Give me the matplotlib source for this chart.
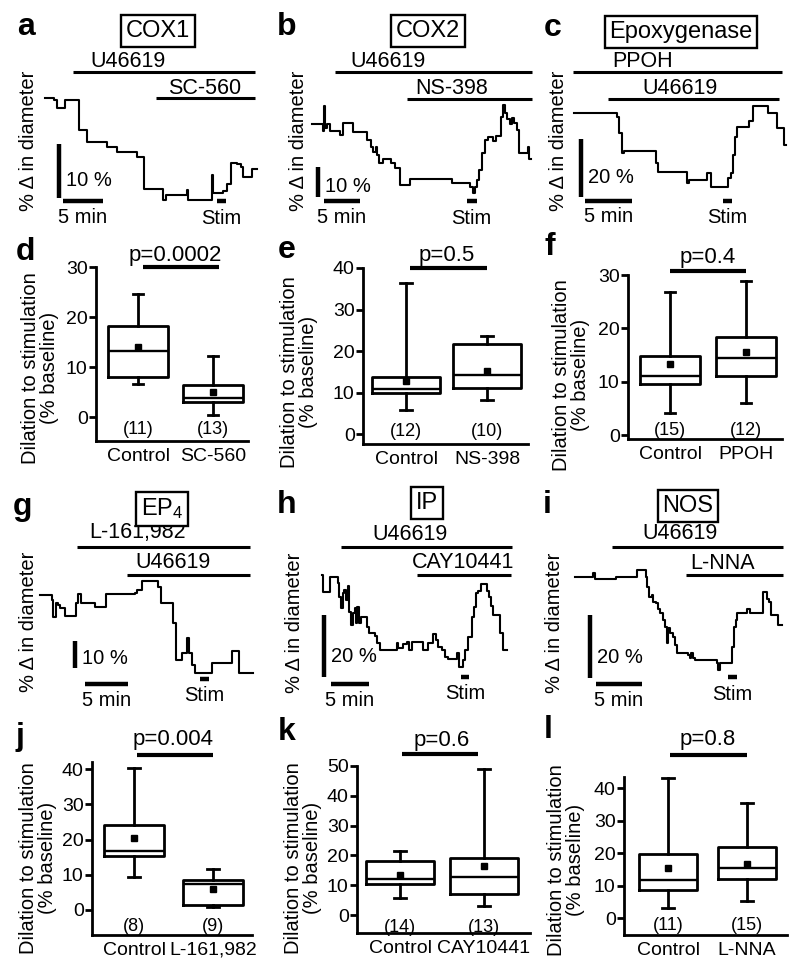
import matplotlib
matplotlib.use('Agg')
import matplotlib.pyplot as plt

plt.rcParams['font.family'] = ['Liberation Sans', 'DejaVu Sans']
plt.rcParams['mathtext.fontset'] = 'custom'
plt.rcParams['mathtext.rm'] = 'Liberation Sans'
plt.rcParams['mathtext.default'] = 'regular'

# ---- trace data: time (min) and % change in diameter ----
a_t = [0, 1.13, 1.54, 2.5, 4.25, 5.29, 7.79, 8.96, 11.46, 12.38, 14.79, 15.08, 17.71, 17.92,
       20.83, 21.04, 22.21, 22.71, 23.25, 24.04, 24.46, 24.79, 25.83, 26.46]
a_v = [0, -0.3, -1.8, -0.3, -6.0, -8.2, -9.1, -10.0, -10.9, -16.8, -18.8, -18.0, -17.1, -18.8,
       -14.3, -17.6, -17.2, -15.9, -12.0, -12.2, -12.8, -14.6, -13.2, -13.2]

b_t = [0, 1.53, 1.71, 1.9, 2.18, 2.55, 3.94, 4.4, 5.79, 7.64, 8.19, 8.56, 8.94, 9.12, 9.4,
       9.95, 10.97, 11.57, 12.27, 13.66, 19.44, 22.0, 22.36, 22.69, 22.92, 23.29, 23.61, 24.07,
       24.54, 25.14, 25.6, 26.3, 26.53, 26.85, 27.08, 27.55, 27.78, 28.1, 28.47, 28.84, 30.09,
       30.23, 30.42]
b_v = [0, -2.2, 6.0, -1.4, 0, -2.2, -3.7, 0.4, -2.6, -5.3, -7.6, -9.2, -7.6, -10.3, -13.1,
       -11.8, -13.1, -14.8, -20.3, -18.4, -19.8, -20.9, -22.9, -20.9, -18.7, -15.3, -9.8, -5.3,
       -4.2, -5.6, -4.0, 2.4, 6.3, 3.6, 1.6, 0, 1.9, 0.2, -2.0, -9.8, -7.6, -11.8, -11.8]

c_t = [0, 4.57, 4.79, 5.04, 5.28, 8.69, 8.94, 11.95, 12.23, 14.08, 14.5, 16.38, 16.67, 16.91,
       17.09, 17.34, 18.62, 18.97, 20.64, 21.52, 22.3, 22.52]
c_v = [0, -1.4, -7.1, -14.0, -13.1, -17.5, -20.3, -24.1, -23.2, -20.7, -25.7, -22.6, -20.9,
       -14.6, -8.3, -5.1, -2.8, 2.3, -0.2, -5.4, -11.1, -11.1]

g_t = [0, 1.36, 1.55, 1.82, 2.13, 2.33, 2.91, 4.19, 4.46, 4.73, 6.4, 7.67, 11.05, 11.24, 11.82,
       13.76, 14.03, 15.5, 15.78, 16.47, 17.05, 17.36, 17.64, 18.02, 19.96, 22.36, 23.18, 24.81]
g_v = [0, -1.9, -8.0, -3.1, -3.7, -4.9, -7.8, -3.1, 0.4, -2.8, -4.3, 0.2, 0.6, 1.9, 5.2,
       3.1, -3.1, -10.5, -24.1, -21.6, -16.0, -21.6, -25.9, -28.8, -25.3, -20.6, -28.8, -28.8]

h_t = [0, 0.22, 1.1, 1.84, 2.11, 2.33, 2.54, 2.76, 2.94, 3.2, 3.42, 3.64, 3.86, 4.17, 4.39,
       4.52, 4.69, 4.96, 5.13, 5.92, 6.27, 7.02, 7.32, 7.68, 9.87, 10.09, 10.66, 11.18, 11.54,
       11.84, 13.16, 13.38, 14.04, 14.69, 15.0, 15.35, 15.79, 16.23, 16.67, 17.85, 18.03, 18.55,
       18.86, 19.3, 19.74, 20.04, 20.31, 20.61, 20.92, 21.71, 21.97, 22.24, 22.59, 23.46, 23.9,
       24.43]
h_v = [0, -5.4, -0.5, -0.8, -2.7, -7.0, -10.8, -5.9, -4.8, -8.1, -3.5, -11.8, -16.1, -12.4,
       -10.8, -15.6, -10.2, -15.6, -13.4, -16.7, -18.8, -19.7, -22.0, -24.2, -22.0, -23.7, -22.3,
       -21.5, -24.2, -21.5, -21.5, -24.2, -21.8, -19.0, -21.0, -23.1, -24.2, -26.3, -27.2, -25.3,
       -29.8, -27.4, -24.2, -19.9, -13.4, -10.2, -5.9, -5.1, -2.9, -5.1, -7.2, -10.0, -12.9,
       -18.8, -24.2, -24.2]

i_t = [0, 1.99, 2.17, 4.46, 6.7, 7.72, 7.86, 8.08, 8.33, 8.51, 8.8, 9.06, 9.24, 9.6, 9.78,
       9.96, 10.14, 10.33, 10.62, 10.87, 11.05, 12.32, 12.5, 12.61, 12.86, 13.04, 15.4, 15.58,
       15.76, 16.85, 17.03, 17.28, 17.5, 17.64, 18.66, 19.02, 20.47, 20.91, 21.12, 21.27, 22.1,
       22.46]
i_v = [0, 1.1, -0.7, 0, 2.1, 0, -3.2, -6.3, -5.8, -7.9, -8.5, -10.1, -11.6, -13.8, -15.9,
       -21.2, -16.4, -18.0, -19.1, -21.7, -24.3, -24.9, -25.9, -24.3, -25.9, -26.5, -27.5, -29.6,
       -27.3, -27.5, -22.2, -15.9, -13.8, -11.6, -10.4, -11.6, -4.8, -7.2, -7.9, -12.2, -15.3,
       -15.3]

# drug application bars: (name, start min, end min, level %, label min, label %)
a_drugs = [('U46619', 3.5, 26.25, 4.8, 10.4, 6.7), ('SC-560', 13.9, 26.25, 0.0, 20.0, 1.85)]
b_drugs = [('U46619', 3.2, 30.6, 17.3, 10.6, 20.7), ('NS-398', 13.2, 30.6, 8.3, 19.4, 11.7)]
c_drugs = [('PPOH', -0.14, 22.1, 14.0, 7.3, 17.5), ('U46619', 3.6, 21.8, 4.7, 11.2, 8.2)]
g_drugs = [('L-161,982', 4.3, 24.4, 17.8, 11.3, 23.0), ('U46619', 10.1, 24.4, 7.4, 15.5, 12.2)]
h_drugs = [('U46619', 2.54, 25.0, 9.0, 11.6, 13.2), ('CAY10441', 12.5, 24.9, 0.0, 18.6, 3.9)]
i_drugs = [('U46619', 4.0, 22.6, 9.4, 11.4, 13.6), ('L-NNA', 12.1, 22.6, 0.5, 16.0, 4.3)]

# stimulation period (min)
a_stim = [21.5, 22.6]
b_stim = [21.5, 22.9]
c_stim = [15.8, 16.8]
g_stim = [18.6, 19.65]
h_stim = [18.3, 19.4]
i_stim = [16.6, 17.6]

# ---- box plot data: dilation to stimulation (% baseline) ----
d_groups = ['Control', 'SC-560']
d_lo = [6.7, 0.5]
d_q1 = [8.0, 3.0]
d_med = [13.3, 3.8]
d_q3 = [18.3, 6.5]
d_hi = [24.7, 12.3]
d_mean = [14.0, 5.0]
d_n = [11, 13]

e_groups = ['Control', 'NS-398']
e_lo = [5.7, 8.2]
e_q1 = [10.0, 11.2]
e_med = [10.8, 14.3]
e_q3 = [13.7, 21.8]
e_hi = [36.3, 23.5]
e_mean = [12.7, 15.2]
e_n = [12, 10]

f_groups = ['Control', 'PPOH']
f_lo = [4.2, 6.0]
f_q1 = [9.5, 11.0]
f_med = [11.0, 14.5]
f_q3 = [14.8, 18.4]
f_hi = [26.8, 28.8]
f_mean = [13.4, 15.6]
f_n = [15, 12]

j_groups = ['Control', 'L-161,982']
j_lo = [9.3, 0.8]
j_q1 = [15.3, 1.5]
j_med = [16.8, 7.5]
j_q3 = [24.0, 8.5]
j_hi = [40.3, 11.7]
j_mean = [20.3, 6.0]
j_n = [8, 9]

k_groups = ['Control', 'CAY10441']
k_lo = [5.7, 3.0]
k_q1 = [10.5, 7.0]
k_med = [12.0, 12.7]
k_q3 = [18.0, 19.0]
k_hi = [21.5, 49.0]
k_mean = [13.5, 16.3]
k_n = [14, 13]

l_groups = ['Control', 'L-NNA']
l_lo = [3.2, 5.2]
l_q1 = [8.5, 12.0]
l_med = [11.8, 15.5]
l_q3 = [19.8, 22.0]
l_hi = [43.0, 35.3]
l_mean = [15.3, 16.5]
l_n = [11, 15]

p_labels = {'d': 'p=0.0002', 'e': 'p=0.5', 'f': 'p=0.4', 'j': 'p=0.004', 'k': 'p=0.6', 'l': 'p=0.8'}

W, H = 800, 975
fig = plt.figure(figsize=(8, 9.75), dpi=100)
K = 'black'


def px_axes(L, T, R, B):
    return fig.add_axes([L / W, 1 - B / H, (R - L) / W, (B - T) / H])


def trace_panel(t, v, drugs, stim, rect, origin, ppm, ppp, vbar, hbar, stim_y, pct):
    L, T, R, B = rect
    x0, y0 = origin
    ax = px_axes(L, T, R, B)
    ax.set_xlim((L - x0) / ppm, (R - x0) / ppm)
    ax.set_ylim((y0 - B) / ppp, (y0 - T) / ppp)
    ax.axis('off')
    ax.step(t, v, where='post', color=K, lw=1.5, clip_on=False)
    for name, t0, t1, lev, tx, ty in drugs:
        ax.plot([t0, t1], [lev, lev], color=K, lw=2.2, solid_capstyle='butt', clip_on=False)
        ax.text(tx, ty, name, ha='center', va='center', fontsize=15.5)
    # scale bars
    vt, vy0 = vbar
    ax.plot([vt, vt], [vy0, vy0 + pct], color=K, lw=3.2, solid_capstyle='butt', clip_on=False)
    ax.text(vt + 7 / ppm, vy0 + pct * 0.33, '%d %%' % pct, ha='left', va='center', fontsize=14.5)
    ht, hy = hbar
    ax.plot([ht, ht + 5], [hy, hy], color=K, lw=3.2, solid_capstyle='butt', clip_on=False)
    ax.text(ht + 2.5, hy - 16 / ppp, '5 min', ha='center', va='center', fontsize=14.5)
    ax.plot(stim, [stim_y, stim_y], color=K, lw=3.2, solid_capstyle='butt', clip_on=False)
    ax.text(sum(stim) / 2, stim_y - 17 / ppp, 'Stim', ha='center', va='center', fontsize=14.5)
    return ax


trace_panel(a_t, a_v, a_drugs, a_stim, (40, 50, 265, 232), (45, 98), 8.0, 5.4,
            (1.7, -18.5), (2.25, -19.1), -19.1, 10)
trace_panel(b_t, b_v, b_drugs, b_stim, (300, 50, 540, 232), (311.7, 124), 7.2, 3.0,
            (0.83, -24.3), (1.67, -25.7), -25.7, 10)
trace_panel(c_t, c_v, c_drugs, c_stim, (565, 50, 795, 232), (574.3, 112.7), 9.4, 2.9,
            (0.7, -29.1), (1.1, -30.4), -30.4, 20)
trace_panel(g_t, g_v, g_drugs, g_stim, (35, 520, 265, 712), (40, 595), 8.6, 2.7,
            (4.1, -27.0), (5.23, -33.0), -31.1, 10)
trace_panel(h_t, h_v, h_drugs, h_stim, (312, 520, 535, 712), (321.7, 575), 7.6, 3.1,
            (0.24, -32.9), (1.22, -35.2), -32.9, 20)
trace_panel(i_t, i_v, i_drugs, i_stim, (565, 520, 795, 712), (575, 576.7), 9.2, 3.15,
            (1.63, -32.2), (2.28, -34.1), -31.9, 20)


def box_panel(key, groups, lo, q1, med, q3, hi, mean, n, rect, centers, ylim, ticks, width,
              pline, ptext_y, n_y):
    L, T, R, B = rect
    ax = px_axes(L, T, R, B)
    c1, c2 = centers
    step = c2 - c1
    ax.set_xlim(1 - (c1 - L) / step, 2 + (R - c2) / step)
    ax.set_ylim(*ylim)
    stats = []
    for k in range(2):
        stats.append(dict(whislo=lo[k], q1=q1[k], med=med[k], q3=q3[k], whishi=hi[k],
                          mean=mean[k], fliers=[], label=groups[k]))
    lp = dict(color=K, lw=2.0)
    ax.bxp(stats, positions=[1, 2], widths=width, showmeans=True, showfliers=False,
           boxprops=lp, whiskerprops=lp, capprops=lp, medianprops=dict(color=K, lw=1.7),
           meanprops=dict(marker='s', markersize=4, markerfacecolor=K, markeredgecolor=K),
           capwidths=0.14)
    for s in ['top', 'right']:
        ax.spines[s].set_visible(False)
    for s in ['left', 'bottom']:
        ax.spines[s].set_linewidth(2.0)
    ax.set_yticks(ticks)
    ax.tick_params(axis='y', direction='out', length=5, width=2.0, labelsize=14, pad=1)
    ax.tick_params(axis='x', length=0, labelsize=14, pad=5)
    for k in range(2):
        ax.text(k + 1, n_y, '(%d)' % n[k], ha='center', va='center', fontsize=13)
    x0, x1, yl = pline
    ax.plot([x0, x1], [yl, yl], color=K, lw=3, solid_capstyle='butt', clip_on=False)
    ax.text(1.5, ptext_y, p_labels[key], ha='center', va='center', fontsize=16)
    return ax


box_panel('d', d_groups, d_lo, d_q1, d_med, d_q3, d_hi, d_mean, d_n, (96, 267, 248, 441),
          (138, 213), (-4.8, 30), [0, 10, 20, 30], 0.79, (1.07, 2.08, 30), 32.4, -2.6)
box_panel('e', e_groups, e_lo, e_q1, e_med, e_q3, e_hi, e_mean, e_n, (363, 268, 528, 444),
          (406, 487), (-2.4, 40), [0, 10, 20, 30, 40], 0.83, (1.05, 2.0, 40), 43.1, 0.7)
box_panel('f', f_groups, f_lo, f_q1, f_med, f_q3, f_hi, f_mean, f_n, (628, 275, 782, 439),
          (670, 746), (-0.75, 30), [0, 10, 20, 30], 0.79, (1.0, 2.0, 30.75), 33.2, 0.9)
box_panel('j', j_groups, j_lo, j_q1, j_med, j_q3, j_hi, j_mean, j_n, (92, 762, 252, 935),
          (134, 213), (-7.1, 42), [0, 10, 20, 30, 40], 0.76, (1.04, 2.0, 44), 48.3, -4.8)
box_panel('k', k_groups, k_lo, k_q1, k_med, k_q3, k_hi, k_mean, k_n, (357, 766, 530, 933),
          (400, 484), (-6.0, 50), [0, 10, 20, 30, 40, 50], 0.81, (1.02, 1.93, 54), 58.7, -4.0)
box_panel('l', l_groups, l_lo, l_q1, l_med, l_q3, l_hi, l_mean, l_n, (624, 777, 787, 935),
          (668, 747), (-5.2, 43.4), [0, 10, 20, 30, 40], 0.74, (1.03, 2.0, 50.2), 54.8, -2.2)

# panel letters
for lab, x, y in [('a', 26, 27), ('b', 287, 27), ('c', 553, 28), ('d', 25, 252), ('e', 287, 250),
                  ('f', 550, 247), ('g', 22, 507), ('h', 287, 505), ('i', 547, 505),
                  ('j', 20, 737), ('k', 287, 732), ('l', 548, 730)]:
    fig.text(x / W, 1 - y / H, lab, ha='center', va='center', fontsize=23, fontweight='bold')

# boxed titles
for lab, x, y in [('COX1', 158, 31), ('COX2', 428, 31), ('Epoxygenase', 681, 32),
                  ('EP$_4$', 162, 509), ('IP', 427, 503), ('NOS', 688, 506)]:
    fig.text(x / W, 1 - y / H, lab, ha='center', va='center', fontsize=17,
             bbox=dict(boxstyle='square,pad=0.2', fc='white', ec=K, lw=1.7))

# trace y labels
for x, y in [(28, 141), (298, 141), (558, 141), (28, 622), (294, 623), (554, 623)]:
    fig.text(x / W, 1 - y / H, '% \u0394 in diameter', rotation=90, ha='center', va='center',
             fontsize=14.5)

# box plot y labels
for x, y in [(40, 368), (299, 372), (571, 375), (38, 858), (303, 858), (566, 860)]:
    fig.text(x / W, 1 - y / H, 'Dilation to stimulation\n(% baseline)', rotation=90,
             ha='center', va='center', fontsize=14.5, linespacing=0.95)

fig.savefig('out.png', dpi=100)
